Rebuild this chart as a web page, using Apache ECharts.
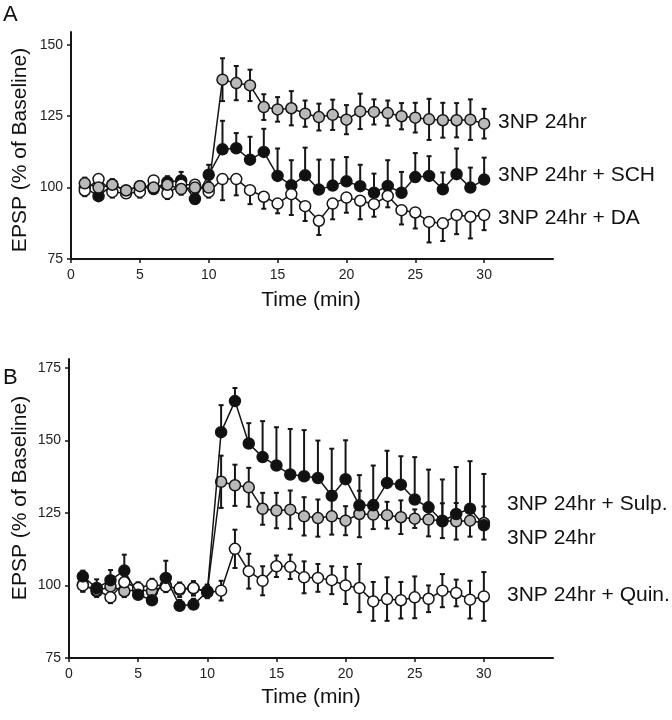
<!DOCTYPE html>
<html><head><meta charset="utf-8">
<script src="https://cdn.jsdelivr.net/npm/echarts@6/dist/echarts.min.js"></script>
<style>html,body{margin:0;padding:0;background:#fff}#c{width:672px;height:720px}</style>
</head><body><div id="c"></div>
<script>
// ---- data ----
const time = [1,2,3,4,5,6,7,8,9,10,11,12,13,14,15,16,17,18,19,20,21,22,23,24,25,26,27,28,29,30];
const xTicks = [0,5,10,15,20,25,30];
const yTicksA = [75,100,125,150];
const yTicksB = [75,100,125,150,175];

const A_names = ['3NP 24hr','3NP 24hr + SCH','3NP 24hr + DA'];
const A_3np = [101.5,100,101,99,100.5,100,101,99.5,100,100, 137.8,136.6,135.8,128.2,127.4,127.8,125.9,124.7,125.5,123.8, 126.7,126.5,126.1,125,124.5,123.9,123.6,123.6,123.8,122.4];
const A_3np_err = [2,2,1.5,1.5,1.5,2,2,2,2,2, 7.5,6,5.5,4.5,4.3,6,4.6,4.7,5.3,5.1, 6.2,4.4,4.4,4.6,5.2,7.2,6.1,6,7.1,5.2];
const A_sch = [100,97,101,99,100.5,99.5,102,102.5,96,104.5, 113.4,113.8,109.8,112.5,104.1,100.8,104.3,99.3,100.7,102.2, 100.5,98.2,100.6,98.2,103.7,104.1,99.4,104.7,100,102.8];
const A_sch_err = [2,2,2,1.5,1.5,2,2,3,2,3.5, 10,5.3,8,8.1,9.6,8.8,9.7,10.5,9.1,8.5, 7.5,6.7,9,7.3,8.4,6.9,5.9,9,7,7.7];
const A_da = [99,103,98.5,98,98.5,102.5,98,101,101,98.5, 103,103,99.1,96.8,94.4,97.7,93.5,88.4,94.4,96.5, 95.4,94.2,97.1,92.1,91.3,88,87.5,90.4,89.8,90.4];
const A_da_err = [2,2,2,1.5,2,2,2,2,2,2, 7.4,5.7,4.9,4.2,3.4,7.3,5.2,5,5.5,5.3, 6.5,4.4,4,5,5.6,7.2,6.2,6.7,7.6,5.3];

const B_names = ['3NP 24hr + Sulp.','3NP 24hr','3NP 24hr + Quin.'];
const B_sulp = [103.1,99.1,101.8,105.1,96.8,94.9,102.6,93,93.4,97.8, 152.8,163.5,148.9,144.2,141.3,138.2,137.6,137,130.9,136.6, 127.6,127.6,135.3,134.7,129.6,126.9,122.1,124.6,126.4,120.7];
const B_sulp_err = [2,3,3.5,5.5,2,2,5.9,2,2,2.5, 9.3,4.5,7,12.4,13.2,15.7,15.9,12.9,16.2,13.4, 10.4,13.7,11.1,9.8,14.6,13,14.4,16.2,16.4,17.7];
const B_3np = [100.3,98,99.7,98,98.5,98,100,98.5,99,98, 135.7,134.5,133.8,126.4,125.8,126.1,123.8,123.2,123.8,122.3, 124.6,124.4,124.2,123.5,123,122.7,122.3,122.1,122.3,121.5];
const B_3np_err = [2.5,2,2,2,2,2,2,2.5,2.5,2, 9,7.1,6.7,5.5,6.1,6.6,6.6,6.4,6.3,5, 8,5,4.6,5.8,3.2,5.8,6,6.3,5.5,5.7];
const B_quin = [100,98.5,95.9,101.1,99.1,100.3,99.7,98.9,99.1,97.6, 98.2,112.6,104.9,101.6,106.6,106.4,102.8,102.6,101.8,100, 99.1,94.5,95.3,94.9,95.9,95.4,98.2,97.4,95.1,96.2];
const B_quin_err = [2,2,2,2,2,2,2,2,2,2, 3.4,6.6,6,5,3.7,4.2,5.5,4.8,4.8,6.4, 8.3,6.7,7.5,6.3,7.2,4.6,5.7,4.6,6.5,8.4];

// ---- styling ----
const INK = '#151515';
const FONT = 'Liberation Sans, Arial, sans-serif';
const FILL = {gray:'#b9b9b9', black:'#111111', white:'#ffffff'};

function pts(vals){ return time.map((t,i)=>[t, vals[i]]); }
function errData(vals, errs){ return time.map((t,i)=>[t, vals[i], errs[i]]); }

function errSeries(idx, vals, errs, dir){
  return {
    type:'custom', xAxisIndex:idx, yAxisIndex:idx, z:2, silent:true,
    data: errData(vals, errs),
    renderItem: function(params, api){
      const t = api.value(0), v = api.value(1), e = api.value(2);
      const c = api.coord([t, v]);
      const up = api.coord([t, v + e]);
      const dn = api.coord([t, v - e]);
      const st = {stroke: INK, lineWidth: 2};
      const kids = [];
      const cap = 2.5;
      if (dir !== 'minus') {
        kids.push({type:'line', shape:{x1:c[0],y1:c[1],x2:up[0],y2:up[1]}, style:st});
        kids.push({type:'line', shape:{x1:c[0]-cap,y1:up[1],x2:c[0]+cap,y2:up[1]}, style:st});
      }
      if (dir !== 'plus') {
        kids.push({type:'line', shape:{x1:c[0],y1:c[1],x2:dn[0],y2:dn[1]}, style:st});
        kids.push({type:'line', shape:{x1:c[0]-cap,y1:dn[1],x2:c[0]+cap,y2:dn[1]}, style:st});
      }
      return {type:'group', children:kids};
    }
  };
}
function lineSeries(idx, name, vals, fill, z){
  return {
    type:'line', name:name, xAxisIndex:idx, yAxisIndex:idx, z:z,
    data: pts(vals), symbol:'circle', symbolSize:11,
    lineStyle:{color:INK, width:1.5},
    itemStyle:{color:fill, borderColor:INK, borderWidth:1.5},
    emphasis:{disabled:true}, animation:false
  };
}
function xAx(idx){
  return {
    type:'value', gridIndex:idx, min:0, max:35, interval:5,
    axisLine:{show:true, lineStyle:{color:INK, width:2}},
    axisTick:{show:true, customValues:xTicks, length:4, lineStyle:{color:INK, width:1.5}},
    axisLabel:{customValues:xTicks, color:'#222', fontSize:14, fontFamily:FONT, margin:9},
    splitLine:{show:false}
  };
}
function yAx(idx, max, ticks){
  return {
    type:'value', gridIndex:idx, min:75, max:max, interval:25,
    axisLine:{show:true, lineStyle:{color:INK, width:2}},
    axisTick:{show:true, customValues:ticks, length:4, lineStyle:{color:INK, width:1.5}},
    axisLabel:{customValues:ticks, color:'#222', fontSize:14, fontFamily:FONT, margin:8},
    splitLine:{show:false}
  };
}
function txt(x, y, s, size, opts){
  return Object.assign({type:'text', x:x, y:y, style:{text:s, font:(size)+'px '+FONT, fill:'#111', textVerticalAlign:'middle'}}, opts||{});
}

const chart = echarts.init(document.getElementById('c'), null, {renderer:'canvas'});
chart.setOption({
  animation:false,
  backgroundColor:'#fff',
  grid:[
    {left:71, top:32, width:482, height:227},
    {left:69, top:359, width:484, height:299}
  ],
  xAxis:[xAx(0), xAx(1)],
  yAxis:[yAx(0, 154.5, yTicksA), yAx(1, 178, yTicksB)],
  series:[
    errSeries(0, A_3np, A_3np_err, 'both'),
    errSeries(0, A_sch, A_sch_err, 'plus'),
    errSeries(0, A_da, A_da_err, 'minus'),
    lineSeries(0, A_names[1], A_sch, FILL.black, 3),
    lineSeries(0, A_names[2], A_da, FILL.white, 4),
    lineSeries(0, A_names[0], A_3np, FILL.gray, 5),
    errSeries(1, B_3np, B_3np_err, 'both'),
    errSeries(1, B_sulp, B_sulp_err, 'plus'),
    errSeries(1, B_quin, B_quin_err, 'both'),
    lineSeries(1, B_names[1], B_3np, FILL.gray, 3),
    lineSeries(1, B_names[2], B_quin, FILL.white, 4),
    lineSeries(1, B_names[0], B_sulp, FILL.black, 5)
  ],
  graphic:[
    txt(3, 15, 'A', 22),
    txt(3, 378, 'B', 22),
    txt(20, 150, 'EPSP (% of Baseline)', 21, {rotation:Math.PI/2, style:{text:'EPSP (% of Baseline)', font:'21px '+FONT, fill:'#111', textAlign:'center', textVerticalAlign:'middle'}}),
    txt(20, 498, 'EPSP (% of Baseline)', 21, {rotation:Math.PI/2, style:{text:'EPSP (% of Baseline)', font:'21px '+FONT, fill:'#111', textAlign:'center', textVerticalAlign:'middle'}}),
    {type:'text', x:311, y:300, style:{text:'Time (min)', font:'21px '+FONT, fill:'#111', textAlign:'center', textVerticalAlign:'middle'}},
    {type:'text', x:311, y:697, style:{text:'Time (min)', font:'21px '+FONT, fill:'#111', textAlign:'center', textVerticalAlign:'middle'}},
    txt(498, 122, A_names[0], 21),
    txt(498, 175, A_names[1], 21),
    txt(498, 218, A_names[2], 21),
    txt(507, 504, B_names[0], 21),
    txt(507, 538, B_names[1], 21),
    txt(507, 595, B_names[2], 21)
  ]
});
</script>
</body></html>
